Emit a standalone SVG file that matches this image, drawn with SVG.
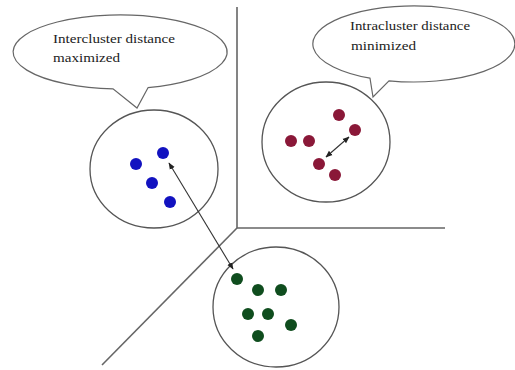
<svg xmlns="http://www.w3.org/2000/svg" width="515" height="370" viewBox="0 0 515 370">
<defs>
<marker id="ah" viewBox="0 0 10 10" refX="9" refY="5" markerWidth="7" markerHeight="7" orient="auto-start-reverse" markerUnits="userSpaceOnUse"><path d="M0,1 L10,5 L0,9 z" fill="#222"/></marker>
<style>
.axis{stroke:#666;stroke-width:1.6;fill:none}
.cl{fill:#fff;stroke:#555;stroke-width:1.3}
.bub{fill:#fff;stroke:#666;stroke-width:1.2}
.t{font-family:"Liberation Serif",serif;font-size:13.5px;fill:#222}
.b{fill:#1212c0}
.r{fill:#8a1838}
.g{fill:#0f4d1e}
.link{stroke:#333;stroke-width:1.1;fill:none}
</style>
</defs>
<rect width="515" height="370" fill="#fff"/>
<g id="axes">
<path class="axis" d="M237,7 L237,228 L445,228"/>
<path class="axis" d="M237,228 L102,365"/>
</g>
<g id="bubble-inter">
<path class="bub" d="M113,88.9 A107,37 0 1 1 148,87.7 L137,108 Z"/>
<text class="t" x="53" y="43" textLength="122" lengthAdjust="spacingAndGlyphs">Intercluster distance</text>
<text class="t" x="53" y="62" textLength="67" lengthAdjust="spacingAndGlyphs">maximized</text>
</g>
<g id="bubble-intra">
<path class="bub" d="M370,78.2 A101,38 0 1 1 389,80.8 L373,97 Z"/>
<text class="t" x="350" y="30" textLength="120" lengthAdjust="spacingAndGlyphs">Intracluster distance</text>
<text class="t" x="351" y="50" textLength="65" lengthAdjust="spacingAndGlyphs">minimized</text>
</g>
<g id="cluster-blue">
<ellipse class="cl" cx="154" cy="169" rx="64" ry="59"/>
<circle class="b" cx="136" cy="164" r="6"/>
<circle class="b" cx="163" cy="153" r="6"/>
<circle class="b" cx="152" cy="183" r="6"/>
<circle class="b" cx="170" cy="202" r="6"/>
</g>
<g id="cluster-red">
<ellipse class="cl" cx="326" cy="142" rx="64" ry="60"/>
<circle class="r" cx="339" cy="115" r="6"/>
<circle class="r" cx="355" cy="130" r="6"/>
<circle class="r" cx="291" cy="141" r="6"/>
<circle class="r" cx="309" cy="141" r="6"/>
<circle class="r" cx="319" cy="164" r="6"/>
<circle class="r" cx="335" cy="175" r="6"/>
</g>
<g id="cluster-green">
<ellipse class="cl" cx="276" cy="307" rx="63" ry="60"/>
<circle class="g" cx="237" cy="279" r="6"/>
<circle class="g" cx="258" cy="290" r="6"/>
<circle class="g" cx="281" cy="290" r="6"/>
<circle class="g" cx="248" cy="314" r="6"/>
<circle class="g" cx="268" cy="314" r="6"/>
<circle class="g" cx="291" cy="325" r="6"/>
<circle class="g" cx="258" cy="336" r="6"/>
</g>
<g id="connectors">
<line class="link" x1="169" y1="163" x2="233" y2="269" marker-start="url(#ah)" marker-end="url(#ah)"/>
<line class="link" x1="326" y1="157" x2="349" y2="137" marker-start="url(#ah)" marker-end="url(#ah)"/>
</g>
</svg>
